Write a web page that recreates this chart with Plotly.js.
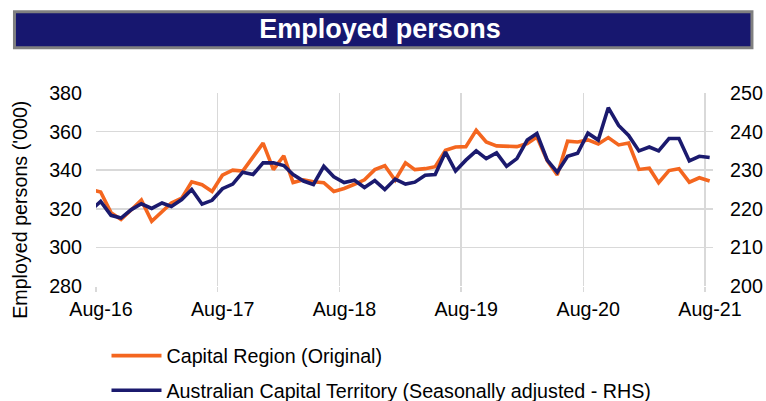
<!DOCTYPE html>
<html>
<head>
<meta charset="utf-8">
<script src="https://cdn.plot.ly/plotly-3.0.1.min.js"></script>
<style>
html,body{margin:0;padding:0;background:#fff;}
#chart{width:766px;height:401px;}
</style>
</head>
<body>
<div id="chart"></div>
<script>
// Months (Jul-16 is only partly visible at the left edge)
var months = ['2016-07','2016-08','2016-09','2016-10','2016-11','2016-12',
  '2017-01','2017-02','2017-03','2017-04','2017-05','2017-06','2017-07','2017-08','2017-09','2017-10','2017-11','2017-12',
  '2018-01','2018-02','2018-03','2018-04','2018-05','2018-06','2018-07','2018-08','2018-09','2018-10','2018-11','2018-12',
  '2019-01','2019-02','2019-03','2019-04','2019-05','2019-06','2019-07','2019-08','2019-09','2019-10','2019-11','2019-12',
  '2020-01','2020-02','2020-03','2020-04','2020-05','2020-06','2020-07','2020-08','2020-09','2020-10','2020-11','2020-12',
  '2021-01','2021-02','2021-03','2021-04','2021-05','2021-06','2021-07','2021-08'];

// Capital Region (Original), '000 — left axis
var capitalRegion = [330, 328.7, 318, 314.5, 319.5, 324.5,
  313.5, 318.5, 323, 325.5, 334, 332.5, 329, 337.4, 340, 339.5, 347, 354,
  340.3, 347.5, 333.6, 335, 334, 333.5, 329, 330.5, 332.7, 335, 340.3, 342.3,
  334.8, 343.8, 340.3, 340.8, 341.8, 350.3, 352, 352.2, 360.7, 354.6, 352.6, 352.2,
  352.2, 353.8, 357.2, 345, 337.5, 355, 354.6, 355.7, 353.6, 356.9, 353.1, 354.1,
  340.4, 341, 333.5, 339.8, 340.8, 333.8, 336.1, 334.4];

// Australian Capital Territory (Seasonally adjusted), '000 — right axis
var actSA = [219.5, 221.9, 218.3, 217.6, 219.8, 221.3,
  220.1, 221.5, 220.6, 222.4, 225, 221.2, 222.2, 225.2, 226.4, 229.5, 228.9, 231.9,
  231.9, 231.2, 228.9, 227.2, 226.3, 231, 228.3, 226.8, 227.4, 225.5, 227.3, 225,
  227.7, 226.4, 226.9, 228.7, 228.9, 234.7, 229.8, 232.6, 235, 233, 234.5, 231,
  233, 237.8, 239.5, 232.6, 229.5, 233.6, 234.4, 239.6, 237.8, 246.2, 241.6, 239,
  235, 236, 235, 238.2, 238.2, 232.4, 233.6, 233.3];

var seriesNames = ['Capital Region (Original)', 'Australian Capital Territory (Seasonally adjusted - RHS)'];
var chartTitle = 'Employed persons';
var yTitle = "Employed persons ('000)";
var leftTicks = [280, 300, 320, 340, 360, 380];
var rightTicks = [200, 210, 220, 230, 240, 250];

var xDates = months.map(function(m){ return m + '-15'; });
var FONT = 'Liberation Sans, Arial, sans-serif';
var FS = 19.7;

var traces = [
  {x: xDates, y: capitalRegion, name: seriesNames[0], type: 'scatter', mode: 'lines',
   line: {color: '#F4661F', width: 3.6}, legendgroup: 'a', yaxis: 'y'},
  {x: xDates, y: actSA, name: seriesNames[1], type: 'scatter', mode: 'lines',
   line: {color: '#1B1A6E', width: 3.6}, legendgroup: 'b', yaxis: 'y2'}
];

var L = 95.5, R = 53, T = 92.7, B = 115.3;
var W = 766 - L - R, H = 401 - T - B;
function px2x(p){ return (p - L) / W; }
function py2y(p){ return (401 - B - p) / H; }

var layout = {
  width: 766, height: 401,
  margin: {l: L, r: R, t: T, b: B, pad: 0, autoexpand: false},
  paper_bgcolor: '#ffffff', plot_bgcolor: '#ffffff',
  font: {family: FONT, size: FS, color: '#000'},
  showlegend: true,
  title: {text: '<b>' + chartTitle + '</b>', font: {family: FONT, size: 27, color: '#ffffff'},
    xref: 'container', yref: 'container', x: 380 / 766, xanchor: 'center', y: 1 - 29 / 401, yanchor: 'middle'},
  xaxis: {type: 'date', range: ['2016-08-01', '2021-08-25'], tick0: '2016-08-01', dtick: 'M12',
    tickformat: '%b-%y', showgrid: true, gridcolor: '#d9d9d9', gridwidth: 1.5,
    ticks: 'outside', ticklen: 5, tickcolor: '#d9d9d9', tickwidth: 1.5,
    ticklabelshift: 5, zeroline: false, showline: false, tickfont: {size: FS, color: '#000'}},
  yaxis: {range: [280, 380], tickvals: leftTicks, showgrid: true, gridcolor: '#d9d9d9', gridwidth: 1.5,
    zeroline: false, showline: false, ticks: '', ticklabelstandoff: 13, tickfont: {size: FS, color: '#000'}},
  yaxis2: {range: [200, 250], tickvals: rightTicks, overlaying: 'y', side: 'right', showgrid: false,
    zeroline: false, showline: false, ticks: '', ticklabelstandoff: 16, tickfont: {size: FS, color: '#000'}},
  legend: {x: px2x(106), y: py2y(336), xanchor: 'left', yanchor: 'top', orientation: 'v',
    traceorder: 'grouped', tracegroupgap: 6, itemwidth: 50, font: {size: FS, color: '#000'},
    bgcolor: 'rgba(0,0,0,0)', borderwidth: 0},
  shapes: [
    {type: 'rect', xref: 'paper', yref: 'paper', x0: px2x(13.9), x1: px2x(752), y0: py2y(47.5), y1: py2y(11.5),
     fillcolor: '#17176F', line: {color: '#808080', width: 3}, layer: 'above'}
  ],
  annotations: [
    {text: yTitle, xref: 'paper', yref: 'paper', x: px2x(20), y: py2y(210), xanchor: 'center', yanchor: 'middle',
     textangle: -90, showarrow: false, font: {family: FONT, size: FS, color: '#000'}}
  ]
};

Plotly.newPlot('chart', traces, layout, {staticPlot: true, displayModeBar: false});
</script>
</body>
</html>
